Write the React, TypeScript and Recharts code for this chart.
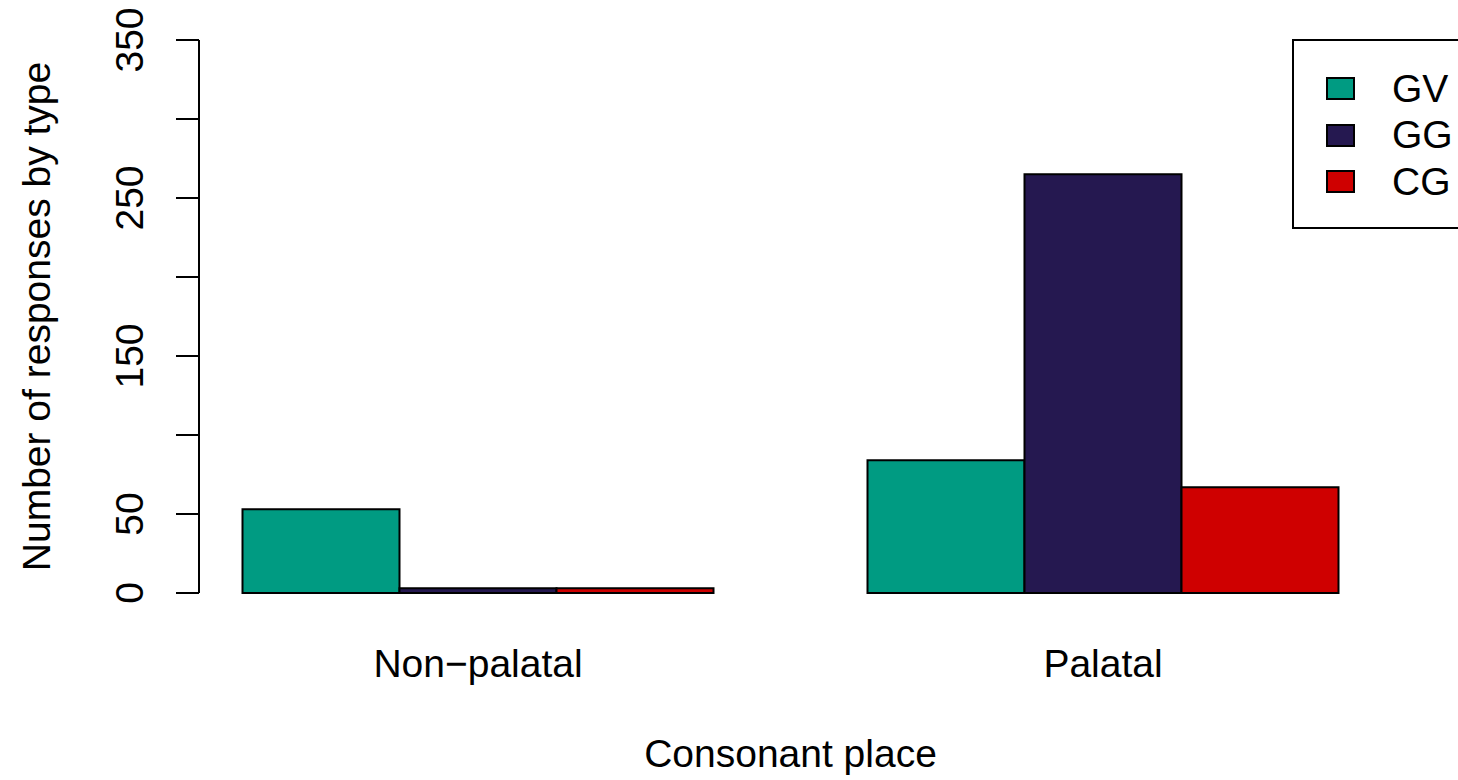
import React from 'react'
import { BarChart, Bar, XAxis, YAxis, Legend, Label } from 'recharts'

const places = ['Non\u2212palatal', 'Palatal']
const seriesNames = ['GV', 'GG', 'CG']
const gv = [53, 84]
const gg = [3, 265]
const cg = [3, 67]
const yTicks = [0, 50, 100, 150, 200, 250, 300, 350]
const yLabelled = [0, 50, 150, 250, 350]

const font = "'Liberation Sans', Arial, Helvetica, sans-serif"
const fs = 39

const data = places.map((p, i) => ({ place: p, GV: gv[i], GG: gg[i], CG: cg[i] }))

const YTick = (props: any) => {
  const { x, y, payload } = props
  if (!yLabelled.includes(payload.value)) return null
  return (
    <text x={x - 33} y={y} transform={`rotate(-90, ${x - 33}, ${y})`} textAnchor="middle"
      fontFamily={font} fontSize={fs} fill="#000">
      {payload.value}
    </text>
  )
}

const XTick = (props: any) => {
  const { x, y, payload } = props
  return (
    <text x={x} y={y + 84} textAnchor="middle" fontFamily={font} fontSize={fs} fill="#000">
      {payload.value}
    </text>
  )
}

const LegendBox = (props: any) => {
  const items = [...(props.payload || [])].sort(
    (a: any, b: any) => seriesNames.indexOf(a.value) - seriesNames.indexOf(b.value)
  )
  return (
    <div style={{ position: 'relative', width: 220, height: 190, border: '2px solid #000', boxSizing: 'border-box', background: '#fff', fontFamily: font, fontSize: fs }}>
      {items.map((it: any, i: number) => (
        <React.Fragment key={it.value}>
          <div style={{ position: 'absolute', left: 32, top: 36 + i * 46.5, width: 29, height: 23, boxSizing: 'border-box', border: '2px solid #000', background: it.color }} />
          <div style={{ position: 'absolute', left: 98, top: 47.5 + i * 46.5 - 19, height: 38, lineHeight: '38px', color: '#000' }}>{it.value}</div>
        </React.Fragment>
      ))}
    </div>
  )
}

export default function App() {
  return (
    <div style={{ position: 'absolute', left: 0, top: 0, width: 1458, height: 780, overflow: 'hidden', background: '#fff' }}>
      <BarChart width={1458} height={780} data={data} margin={{ top: 40, right: 76, bottom: 87, left: 79 }}
        barGap={0} barCategoryGap={77}>
        <XAxis dataKey="place" height={100} axisLine={false} tickLine={false} tickSize={0} tickMargin={0}
          padding={{ left: -33.5, right: -33.5 }} tick={<XTick />} interval={0}>
          <Label content={(p: any) => {
            const vb = p.viewBox
            return (
              <text x={vb.x + vb.width / 2} y={vb.y + 174} textAnchor="middle" fontFamily={font} fontSize={fs} fill="#000">
                Consonant place
              </text>
            )
          }} />
        </XAxis>
        <YAxis width={120} domain={[0, 350]} ticks={yTicks} interval={0} tickSize={23} tickMargin={0}
          stroke="#000" strokeWidth={2} tick={<YTick />}>
          <Label content={(p: any) => {
            const vb = p.viewBox
            const cx = vb.x - 29
            const cy = vb.y + vb.height / 2
            return (
              <text x={cx} y={cy} transform={`rotate(-90, ${cx}, ${cy})`} textAnchor="middle" fontFamily={font} fontSize={fs} fill="#000">
                Number of responses by type
              </text>
            )
          }} />
        </YAxis>
        <Legend layout="vertical" align="center" verticalAlign="middle" content={<LegendBox />}
          wrapperStyle={{ left: 1292, top: 39, width: 220, height: 190 }} />
        <Bar dataKey="GV" fill="#009B82" stroke="#000" strokeWidth={2} isAnimationActive={false} />
        <Bar dataKey="GG" fill="#251850" stroke="#000" strokeWidth={2} isAnimationActive={false} />
        <Bar dataKey="CG" fill="#CF0000" stroke="#000" strokeWidth={2} isAnimationActive={false} />
      </BarChart>
    </div>
  )
}
